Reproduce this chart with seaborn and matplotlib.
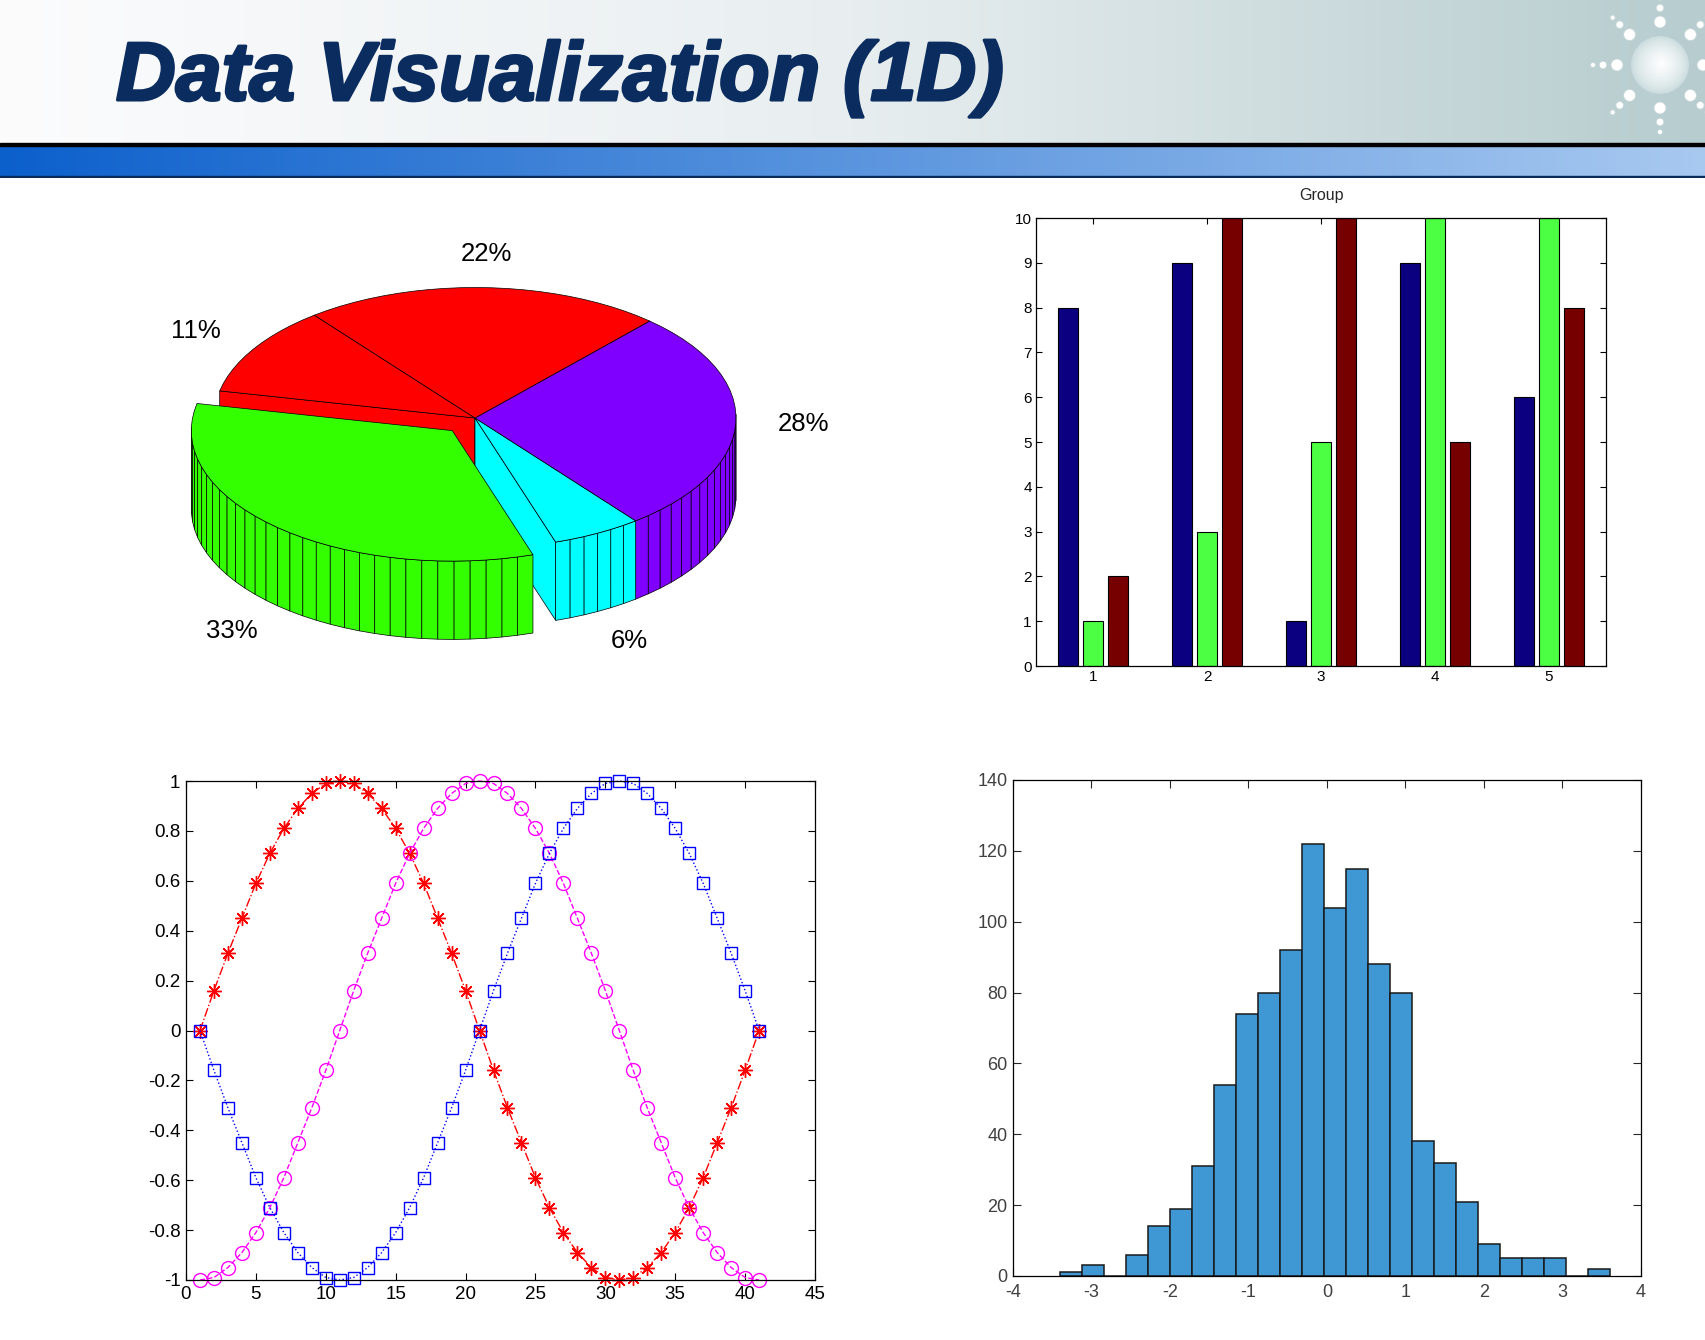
import numpy as np
import pandas as pd
import matplotlib
matplotlib.use("Agg")
import matplotlib.pyplot as plt
import matplotlib.patheffects as pe
import seaborn as sns
from matplotlib.patches import Polygon, Circle, Rectangle

# ---------------- data ----------------
title_text = "Data Visualization (1D)"

pie_values = [1, 3, 0.5, 2.5, 2]
pie_explode = [0, 1, 0, 0, 0]
pie_colors = ["#ff0000", "#33ff00", "#00ffff", "#8000ff", "#ff0000"]

bar_title = "Group"
bar_groups = ["1", "2", "3", "4", "5"]
bar_series_a = [8, 9, 1, 9, 6]
bar_series_b = [1, 3, 5, 10, 10]
bar_series_c = [2, 10, 10, 5, 8]
bar_colors = ["#0b007f", "#4dff42", "#760000"]

line_x = list(range(1, 42))
line_red = [0, .16, .31, .45, .59, .71, .81, .89, .95, .99, 1, .99, .95, .89, .81, .71, .59, .45, .31, .16,
            0, -.16, -.31, -.45, -.59, -.71, -.81, -.89, -.95, -.99, -1, -.99, -.95, -.89, -.81, -.71, -.59,
            -.45, -.31, -.16, 0]
line_magenta = [-1, -.99, -.95, -.89, -.81, -.71, -.59, -.45, -.31, -.16, 0, .16, .31, .45, .59, .71, .81,
                .89, .95, .99, 1, .99, .95, .89, .81, .71, .59, .45, .31, .16, 0, -.16, -.31, -.45, -.59,
                -.71, -.81, -.89, -.95, -.99, -1]
line_blue = [0, -.16, -.31, -.45, -.59, -.71, -.81, -.89, -.95, -.99, -1, -.99, -.95, -.89, -.81, -.71, -.59,
             -.45, -.31, -.16, 0, .16, .31, .45, .59, .71, .81, .89, .95, .99, 1, .99, .95, .89, .81, .71,
             .59, .45, .31, .16, 0]
line_xticks = [0, 5, 10, 15, 20, 25, 30, 35, 40, 45]
line_yticks = [-1, -0.8, -0.6, -0.4, -0.2, 0, 0.2, 0.4, 0.6, 0.8, 1]

hist_edges = [-3.40, -3.12, -2.84, -2.56, -2.28, -2.00, -1.72, -1.44, -1.16, -0.88, -0.60, -0.32, -0.04,
              0.24, 0.52, 0.80, 1.08, 1.36, 1.64, 1.92, 2.20, 2.48, 2.76, 3.04, 3.32, 3.60]
hist_counts = [1, 3, 0, 6, 14, 19, 31, 54, 74, 80, 92, 122, 104, 115, 88, 80, 38, 32, 21, 9, 5, 5, 5, 0, 2]
hist_xticks = [-4, -3, -2, -1, 0, 1, 2, 3, 4]
hist_yticks = [0, 20, 40, 60, 80, 100, 120, 140]

# ---------------- setup ----------------
sns.set_style("white")
plt.rcParams["font.family"] = ["Liberation Sans", "DejaVu Sans"]
plt.rcParams["axes.unicode_minus"] = False

W, Hpx = 1706, 1340
fig = plt.figure(figsize=(W / 100, Hpx / 100), dpi=100)
fig.patch.set_facecolor("white")


def add_axes_px(left, top, right, bottom):
    return fig.add_axes([left / W, 1 - bottom / Hpx, (right - left) / W, (bottom - top) / Hpx])


def style_ticks(ax, length=5, color="black"):
    ax.tick_params(direction="in", top=True, right=True, bottom=True, left=True,
                   length=length, width=0.8, colors=color, pad=4)
    for s in ax.spines.values():
        s.set_visible(True)
        s.set_color("black")
        s.set_linewidth(0.9)


# ---------------- header ----------------
axh = add_axes_px(0, 0, W, 178)
axh.set_xlim(0, W)
axh.set_ylim(178, 0)
axh.axis("off")
t = np.linspace(0, 1, 600)
c_left = np.array([252, 252, 253]) / 255
c_mid = np.array([232, 238, 240]) / 255
c_right = np.array([182, 204, 206]) / 255
g = np.where(t[:, None] < 0.5,
             c_left + (c_mid - c_left) * (t[:, None] / 0.5),
             c_mid + (c_right - c_mid) * ((t[:, None] - 0.5) / 0.5))
axh.imshow(g[None, :, :], extent=(0, W, 144, 0), aspect="auto", zorder=0)
b_left = np.array([12, 96, 204]) / 255
b_right = np.array([168, 201, 240]) / 255
gb = b_left + (b_right - b_left) * t[:, None]
axh.imshow(gb[None, :, :], extent=(0, W, 176, 146), aspect="auto", zorder=0)
axh.add_patch(Rectangle((0, 143), W, 3.2, color="black", zorder=1))
axh.add_patch(Rectangle((0, 175.5), W, 2.5, color="#0a2a5a", zorder=1))
axh.text(116, 100, title_text, fontsize=59.5, fontweight="bold", fontstyle="italic",
         color="#0b2c5f", va="baseline", ha="left", zorder=3,
         path_effects=[pe.withStroke(linewidth=2.2, foreground="#0b2c5f")])

# logo
lcx, lcy = 1660, 65
for i in range(40):
    r = 29 * (1 - i / 40)
    f = (i / 40) ** 0.7
    col = np.array([0.79, 0.86, 0.87]) * (1 - f) + np.array([1, 1, 1]) * f
    axh.add_patch(Circle((lcx + 2 * i / 40, lcy - 2 * i / 40), r, color=col, lw=0, zorder=2))
for ang in np.arange(0, 360, 45):
    a = np.radians(ang)
    for rr, sz in ((43, 6.0), (57, 3.8), (67, 2.5)):
        axh.add_patch(Circle((lcx + rr * np.cos(a), lcy - rr * np.sin(a)), sz,
                             facecolor="white", edgecolor="#c5d6d8", lw=0.6, zorder=2))

# ---------------- 3D pie ----------------
PCX, PCY, PR = 475, 418, 261
axp = add_axes_px(150, 220, 850, 680)
axp.set_xlim((150 - PCX) / PR, (850 - PCX) / PR)
axp.set_ylim((PCY - 680) / PR, (PCY - 220) / PR)
axp.axis("off")
S, HW, EXP, START, STEP = 0.50, 0.30, 0.13, 128.0, 3.6
total = sum(pie_values)
walls, tops, labels = [], [], []
cum = 0.0
for v, e, c in zip(pie_values, pie_explode, pie_colors):
    frac = v / total
    t0 = START + 360 * cum
    t1 = t0 + 360 * frac
    cum += frac
    mid = np.radians((t0 + t1) / 2)
    ox, oy = EXP * e * np.cos(mid), EXP * e * np.sin(mid)
    n = max(2, int(np.ceil((t1 - t0) / STEP)))
    th = np.radians(np.linspace(t0, t1, n + 1))
    rx, ry = ox + np.cos(th), oy + np.sin(th)
    tops.append(([(ox, S * oy)] + [(x, S * y) for x, y in zip(rx, ry)], c))
    for k in range(n):
        m = (th[k] + th[k + 1]) / 2
        if np.sin(m) < 0:
            quad = [(rx[k], S * ry[k]), (rx[k + 1], S * ry[k + 1]),
                    (rx[k + 1], S * ry[k + 1] - HW), (rx[k], S * ry[k] - HW)]
            walls.append((oy + np.sin(m), quad, c))
    for tt, vis in ((th[0], np.cos(th[0]) > 0), (th[-1], np.cos(th[-1]) < 0)):
        if vis:
            ex, ey = ox + np.cos(tt), oy + np.sin(tt)
            quad = [(ox, S * oy), (ex, S * ey), (ex, S * ey - HW), (ox, S * oy - HW)]
            walls.append((oy + 0.5 * np.sin(tt), quad, c))
    lx = ox + 1.26 * np.cos(mid)
    ly = S * (oy + 1.26 * np.sin(mid)) - (HW if np.sin(mid) < -0.5 else 0)
    labels.append((lx, ly, f"{round(100 * frac)}%"))

walls.sort(key=lambda w: -w[0])
for _, quad, c in walls:
    axp.add_patch(Polygon(quad, closed=True, facecolor=c, edgecolor="black", lw=0.5))
for verts, c in tops:
    axp.add_patch(Polygon(verts, closed=True, facecolor=c, edgecolor="black", lw=0.5))
for lx, ly, txt in labels:
    axp.text(lx, ly, txt, ha="center", va="center", fontsize=18.5, color="black")

# ---------------- grouped bars ----------------
axb = add_axes_px(1036, 218, 1606, 666)
bar_df = pd.DataFrame({
    "group": bar_groups * 3,
    "value": bar_series_a + bar_series_b + bar_series_c,
    "series": ["a"] * 5 + ["b"] * 5 + ["c"] * 5,
})
sns.barplot(data=bar_df, x="group", y="value", hue="series", palette=bar_colors,
            width=0.66, gap=0.18, saturation=1, edgecolor="black", linewidth=0.8,
            legend=False, ax=axb)
axb.set_xlim(-0.5, 4.5)
axb.set_ylim(0, 10)
axb.set_yticks(range(0, 11))
axb.set_xlabel("")
axb.set_ylabel("")
axb.set_title(bar_title, fontsize=11.5, pad=13)
style_ticks(axb, length=4)
axb.tick_params(labelsize=11, pad=3)

# ---------------- lines ----------------
axl = add_axes_px(186, 781, 815, 1280)
common = dict(linewidth=1, markeredgewidth=1, markerfacecolor="none", clip_on=False, ax=axl)
sns.lineplot(x=line_x, y=line_red, color="#ff0000", linestyle="-.", marker=(8, 2, 0),
             markersize=10.5, markeredgecolor="#ff0000", **common)
sns.lineplot(x=line_x, y=line_magenta, color="#ff00ff", linestyle="--", marker="o",
             markersize=10, markeredgecolor="#ff00ff", **common)
sns.lineplot(x=line_x, y=line_blue, color="#0000ff", linestyle=":", marker="s",
             markersize=9, markeredgecolor="#0000ff", **common)
axl.set_xlim(0, 45)
axl.set_ylim(-1, 1)
axl.set_xticks(line_xticks)
axl.set_yticks(line_yticks)
axl.set_yticklabels([f"{v:g}" for v in line_yticks])
style_ticks(axl, length=5)
axl.tick_params(labelsize=13.5)

# ---------------- histogram ----------------
axg = add_axes_px(1013, 780, 1641, 1276)
centers = [(a + b) / 2 for a, b in zip(hist_edges[:-1], hist_edges[1:])]
sns.histplot(x=centers, weights=hist_counts, bins=hist_edges, color="#3f98d3", alpha=1,
             edgecolor="#1a1a1a", linewidth=1.1, ax=axg)
axg.set_xlim(-4, 4)
axg.set_ylim(0, 140)
axg.set_xticks(hist_xticks)
axg.set_yticks(hist_yticks)
axg.set_xlabel("")
axg.set_ylabel("")
style_ticks(axg, length=6)
axg.tick_params(labelsize=13, labelcolor="#404040", color="#262626")
axg.tick_params(axis="x", pad=6)

fig.savefig("out.png", dpi=100)
